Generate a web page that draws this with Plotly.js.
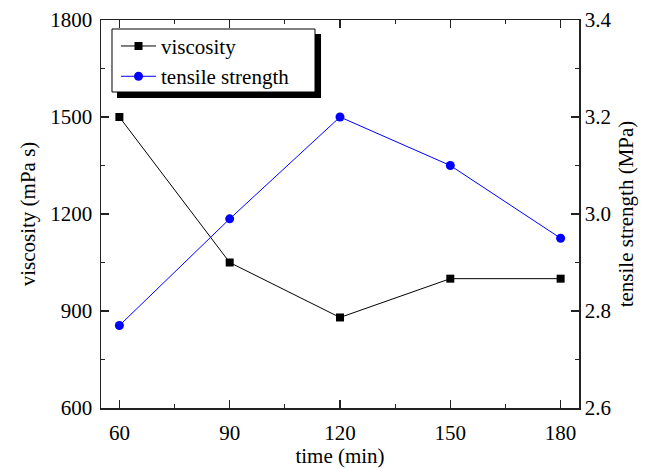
<!DOCTYPE html>
<html>
<head>
<meta charset="utf-8">
<script src="https://cdn.plot.ly/plotly-3.0.1.min.js"></script>
<style>html,body{margin:0;padding:0;background:#fff;}#chart{width:650px;height:468px;}</style>
</head>
<body>
<div id="chart"></div>
<script>
var timeMin = [60, 90, 120, 150, 180];
var viscosity = [1500, 1050, 880, 1000, 1000];
var tensileStrength = [2.77, 2.99, 3.20, 3.10, 2.95];

var font = "Liberation Serif, Times New Roman, serif";
var axisCommon = {
  showgrid: false, zeroline: false, showline: true,
  linecolor: '#222', linewidth: 1.5,
  ticks: 'inside', ticklen: 8, tickwidth: 1.2, tickcolor: '#222',
  tickfont: {family: font, size: 21, color: '#000'}
};

var traces = [
  {x: timeMin, y: viscosity, name: 'viscosity', type: 'scatter', mode: 'lines+markers',
   line: {color: '#000', width: 1}, marker: {symbol: 'square', size: 8, color: '#000'}},
  {x: timeMin, y: tensileStrength, name: 'tensile strength', type: 'scatter', mode: 'lines+markers',
   yaxis: 'y2', line: {color: '#0000ff', width: 1}, marker: {symbol: 'circle', size: 9, color: '#0000ff'}}
];

var layout = {
  width: 650, height: 468,
  margin: {l: 101, r: 71, t: 20, b: 60},
  paper_bgcolor: '#fff', plot_bgcolor: '#fff',
  showlegend: true,
  xaxis: Object.assign({}, axisCommon, {
    range: [55, 185], tick0: 60, dtick: 30, mirror: 'ticks', ticklabelstandoff: 5,
    minor: {dtick: 15, ticks: 'inside', ticklen: 4, tickcolor: '#222'},
    title: {text: 'time (min)', font: {family: font, size: 21, color: '#000'}, standoff: 3}
  }),
  yaxis: Object.assign({}, axisCommon, {
    range: [600, 1800], tick0: 600, dtick: 300, ticklabelstandoff: 3,
    minor: {dtick: 150, ticks: 'inside', ticklen: 4, tickcolor: '#222'},
    title: {text: 'viscosity (mPa s)', font: {family: font, size: 21, color: '#000'}, standoff: 9}
  }),
  yaxis2: Object.assign({}, axisCommon, {
    overlaying: 'y', side: 'right',
    range: [2.6, 3.4], tick0: 2.6, dtick: 0.2, tickformat: '.1f',
    minor: {dtick: 0.1, ticks: 'inside', ticklen: 4, tickcolor: '#222'},
    title: {text: 'tensile strength (MPa)', font: {family: font, size: 21, color: '#000'}, standoff: 8}
  }),
  legend: {
    x: 0.0314, y: 0.985, xanchor: 'left', yanchor: 'top',
    bgcolor: 'rgba(0,0,0,0)', borderwidth: 0,
    font: {family: font, size: 21, color: '#000'},
    itemwidth: 35
  },
  shapes: [
    {type: 'rect', xref: 'paper', yref: 'paper',
     x0: 0.0335, x1: 0.4603, y0: 0.799, y1: 0.964,
     fillcolor: '#000', line: {width: 0}, layer: 'above'},
    {type: 'rect', xref: 'paper', yref: 'paper',
     x0: 0.023, x1: 0.4477, y0: 0.8144, y1: 0.9768,
     fillcolor: '#fff', line: {width: 1, color: '#000'}, layer: 'above'}
  ]
};

Plotly.newPlot('chart', traces, layout, {displayModeBar: false, staticPlot: true});
</script>
</body>
</html>
